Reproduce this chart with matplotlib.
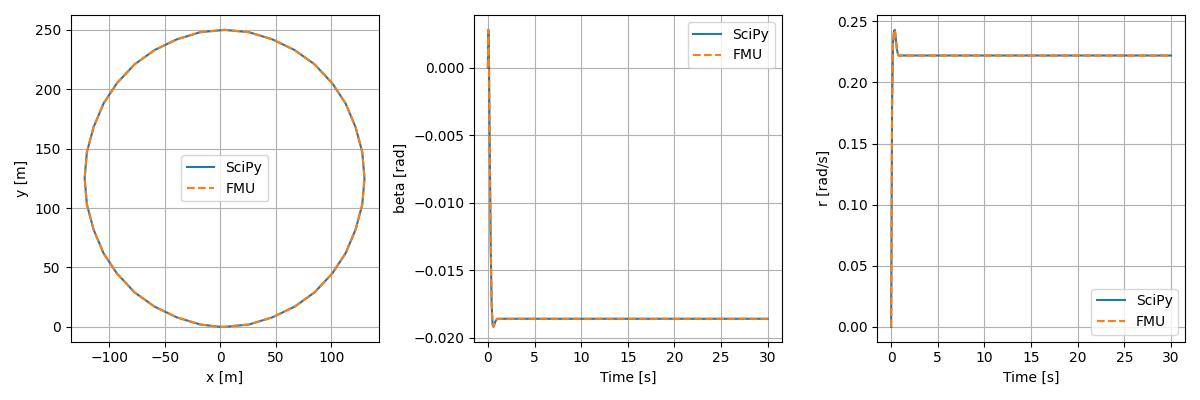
import matplotlib

matplotlib.use("Agg")
import matplotlib.pyplot as plt

# trajectory
traj_x = [0, 4, 26, 47, 67, 85, 101, 113, 122, 128, 130, 128, 122, 113, 101, 85, 67, 47, 26, 4,
          -18, -39, -59, -77, -93, -105, -114, -120, -122, -120, -114, -105, -93, -77, -59, -39, -18, 0]
traj_y = [0, 0, 2, 8, 17, 29, 45, 62, 82, 103, 125, 147, 168, 188, 205, 221, 233, 242, 248, 250,
          248, 242, 233, 221, 205, 188, 168, 147, 125, 103, 82, 62, 45, 29, 17, 8, 2, 0]

t = [0, 0.05, 0.1, 0.2, 0.3, 0.4, 0.5, 0.6, 0.7, 0.8, 1.0, 1.5, 2.0, 30.0]
beta = [0.0, 0.0028, 0.0015, -0.006, -0.013, -0.0175, -0.0190, -0.0192, -0.0190, -0.0188,
        -0.0186, -0.0186, -0.0186, -0.0186]
r = [0.0, 0.09, 0.18, 0.232, 0.242, 0.243, 0.236, 0.228, 0.224, 0.222, 0.222, 0.222, 0.222, 0.222]

fig, axes = plt.subplots(1, 3, figsize=(12, 4))

ax = axes[0]
ax.plot(traj_x, traj_y, color="C0", label="SciPy")
ax.plot(traj_x, traj_y, color="C1", linestyle="--", label="FMU")
ax.set(xlabel="x [m]", ylabel="y [m]")
ax.legend(loc="center")
ax.grid(True)

ax = axes[1]
ax.plot(t, beta, color="C0", label="SciPy")
ax.plot(t, beta, color="C1", linestyle="--", label="FMU")
ax.set(xlabel="Time [s]", ylabel="beta [rad]")
ax.legend(loc="upper right")
ax.grid(True)

ax = axes[2]
ax.plot(t, r, color="C0", label="SciPy")
ax.plot(t, r, color="C1", linestyle="--", label="FMU")
ax.set(xlabel="Time [s]", ylabel="r [rad/s]")
ax.legend(loc="lower right")
ax.grid(True)

plt.tight_layout()
plt.savefig("out.png", dpi=100)
